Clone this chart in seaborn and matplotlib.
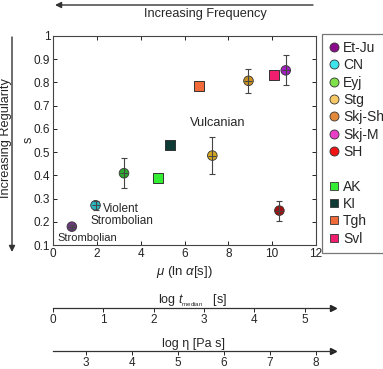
import pandas as pd
import matplotlib.pyplot as plt
import seaborn as sns
from matplotlib.lines import Line2D

sns.set_style('white')
plt.rcParams['font.family'] = ['Liberation Sans', 'DejaVu Sans']
plt.rcParams['mathtext.fontset'] = 'custom'
plt.rcParams['mathtext.rm'] = 'Liberation Sans'
plt.rcParams['mathtext.it'] = 'Liberation Sans:italic'

# eruption series with error bars (circles)
circ_names = ['Et-Ju', 'CN', 'Eyj', 'Stg', 'Skj-Sh', 'Skj-M', 'SH']
circ_mu = [0.86, 1.94, 3.24, 7.27, 8.92, 10.62, 10.33]
circ_s = [0.179, 0.271, 0.409, 0.485, 0.807, 0.852, 0.248]
circ_err = [0.008, 0.02, 0.065, 0.08, 0.053, 0.065, 0.043]
circ_legend_col = ['#8a0a8c', '#3fe3ea', '#80e04c', '#f7c865', '#e2883a', '#e83fc6', '#f01414']
circ_point_col = ['#6e3a80', '#2bb5c0', '#2ea82e', '#d4a520', '#c8901e', '#a21fc0', '#a01010']

# series without error bars (squares)
sq_names = ['AK', 'KI', 'Tgh', 'Svl']
sq_mu = [4.80, 5.36, 6.65, 10.07]
sq_s = [0.387, 0.529, 0.786, 0.833]
sq_col = ['#33ee33', '#0e3b35', '#f06a3a', '#f01e6e']

# secondary scales
tmed_ticks = [0, 1, 2, 3, 4, 5]
eta_ticks = [3, 4, 5, 6, 7, 8]

circ = pd.DataFrame({'name': circ_names, 'mu': circ_mu, 's': circ_s})
sq = pd.DataFrame({'name': sq_names, 'mu': sq_mu, 's': sq_s})

W, H = 383, 369
fig = plt.figure(figsize=(W / 100, H / 100), dpi=100)
ax = fig.add_axes([53 / W, 1 - 245 / H, 263 / W, 209 / H])

dark = '#333333'
ax.errorbar(circ_mu, circ_s, yerr=circ_err, fmt='none', ecolor='#444444',
            elinewidth=0.8, capsize=2.5, capthick=0.8, zorder=4)
sns.scatterplot(data=circ, x='mu', y='s', hue='name',
                palette=dict(zip(circ_names, circ_point_col)),
                s=48, edgecolor=dark, linewidth=0.6, legend=False, ax=ax, zorder=3)
ax.scatter(circ_mu, circ_s, marker='_', s=30, color='#444444', linewidths=0.7, zorder=5)
sns.scatterplot(data=sq, x='mu', y='s', hue='name',
                palette=dict(zip(sq_names, sq_col)), marker='s',
                s=52, edgecolor=dark, linewidth=0.7, legend=False, ax=ax, zorder=3)

ax.set_xlim(0, 12)
ax.set_ylim(0.1, 1)
ax.set_xticks(range(0, 13, 2))
yt = [0.1, 0.2, 0.3, 0.4, 0.5, 0.6, 0.7, 0.8, 0.9, 1.0]
ax.set_yticks(yt)
ax.set_yticklabels(['0.1', '0.2', '0.3', '0.4', '0.5', '0.6', '0.7', '0.8', '0.9', '1'])
ax.tick_params(direction='in', bottom=True, left=True, top=True, right=True,
               length=3, width=0.7, labelsize=8.5, pad=2, colors='#222222')
for sp in ax.spines.values():
    sp.set_color('#444444')
    sp.set_linewidth(0.8)
ax.set_xlabel(r'$\mu$ (ln $\alpha$[s])', fontsize=9.5, labelpad=3)
ax.set_ylabel('')

ax.text(0.2, 0.13, 'Strombolian', fontsize=8, va='center')
ax.text(2.3, 0.255, 'Violent', fontsize=8.5, va='center')
ax.text(1.72, 0.205, 'Strombolian', fontsize=8.5, va='center')
ax.text(7.5, 0.626, 'Vulcanian', fontsize=9.2, ha='center', va='center')

# legend
handles, labels = [], []
for n, c in zip(circ_names, circ_legend_col):
    handles.append(Line2D([], [], marker='o', ls='none', ms=6.5, mfc=c, mec=dark, mew=0.6))
    labels.append(n)
handles.append(Line2D([], [], ls='none'))
labels.append('')
for n, c in zip(sq_names, sq_col):
    handles.append(Line2D([], [], marker='s', ls='none', ms=6, mfc=c, mec=dark, mew=0.6))
    labels.append(n)
leg = fig.legend(handles, labels, loc='upper left', bbox_to_anchor=(322 / W, 1 - 34 / H),
                 fontsize=10, handlelength=0.7, handletextpad=0.3, labelspacing=0.24,
                 borderpad=0.5, borderaxespad=0, frameon=True, fancybox=False)
leg.get_frame().set_edgecolor('#555555')
leg.get_frame().set_linewidth(0.9)

# arrows and side labels
arrow = dict(arrowstyle='-|>', color='#333333', lw=1, mutation_scale=9, shrinkA=0, shrinkB=0)
ax.annotate('', xy=(55 / W, 1 - 5 / H), xytext=(313 / W, 1 - 5 / H),
            xycoords='figure fraction', arrowprops=arrow)
fig.text(205 / W, 1 - 14 / H, 'Increasing Frequency', fontsize=9.2, ha='center', va='center')
ax.annotate('', xy=(12 / W, 1 - 252 / H), xytext=(12 / W, 1 - 37 / H),
            xycoords='figure fraction', arrowprops=arrow)
fig.text(6 / W, 1 - 138 / H, 'Increasing Regularity', fontsize=9.2, rotation=90,
         ha='center', va='center')
fig.text(29 / W, 1 - 140 / H, 's', fontsize=9, rotation=90, ha='center', va='center')


def scale_axis(ypix, lo, hi, ticks, title):
    a = fig.add_axes([53 / W, 1 - ypix / H, 280 / W, 0.0001])
    a.set_xlim(lo, hi)
    a.set_xticks(ticks)
    a.set_yticks([])
    for k in ['left', 'right', 'top']:
        a.spines[k].set_visible(False)
    a.spines['bottom'].set_color('#333333')
    a.spines['bottom'].set_linewidth(0.9)
    a.tick_params(axis='x', bottom=True, direction='out', length=3, width=0.7,
                  labelsize=8.5, pad=1)
    a.plot(1, 0, '>', color='#222222', ms=5, transform=a.transAxes, clip_on=False)
    a.set_title(title, fontsize=9, pad=3)
    a.patch.set_visible(False)
    return a


scale_axis(308, 0, 5.56, tmed_ticks, r'log $t_{_{\mathrm{median}}}$   [s]')
scale_axis(351, 2.28, 8.37, eta_ticks, 'log η [Pa s]')

fig.savefig('out.png', dpi=100)
